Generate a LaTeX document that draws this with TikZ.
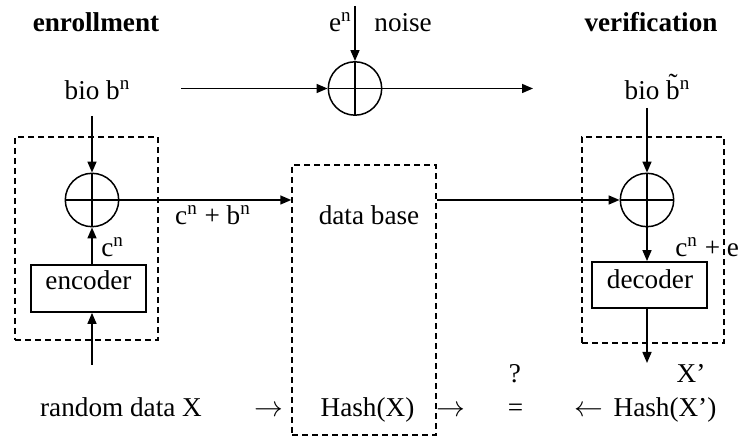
\documentclass[tikz,border=0pt]{standalone}
\usepackage{fontspec}
\setmainfont{Liberation Serif}
\usetikzlibrary{arrows.meta,positioning}
\tikzset{
  txt/.style={font=\fontsize{13.6}{16}\selectfont, inner sep=0pt, anchor=base},
  head/.style={txt, font=\fontsize{13.6}{16}\selectfont\bfseries},
  adder/.style={circle, draw, line width=0.75pt, minimum size=26.7pt, inner sep=0pt,
    path picture={\draw[line width=0.75pt]
      (path picture bounding box.north) -- (path picture bounding box.south)
      (path picture bounding box.west) -- (path picture bounding box.east);}},
  codebox/.style={draw, line width=0.9pt, minimum width=57.5pt, minimum height=23.5pt, inner sep=0pt},
  groupbox/.style={draw, dash pattern=on 3pt off 2pt, line width=0.75pt, inner sep=0pt},
  flow/.style={line width=0.75pt, -{Triangle[length=5.5pt,width=4.5pt]}},
}
\newcommand{\tildeb}{\ooalign{b\cr\hidewidth\raisebox{0.28em}{\char"02DC}\hidewidth\cr}}

\begin{document}
\begin{tikzpicture}[x=0.5pt, y=-0.5pt]
\useasboundingbox (0,0) rectangle (738,437);

% titles
\node[head] (enroll) at (96,32) {enrollment};
\node[head] (verif) at (651,32) {verification};

% biometric inputs and noise
\node[txt] (bioL) at (97.5,100) {bio b\textsuperscript{n}};
\node[txt] (bioR) at (657.5,100) {bio \tildeb\textsuperscript{n}};
\node[adder] (sumN) at (355,88.5) {};
\node[txt, anchor=base east] (noiseE) at (352,32) {e\textsuperscript{n}};
\node[txt, anchor=base west] (noise) at (374,32) {noise};
\coordinate (noiseIn) at (355,6);
\coordinate (bioLin) at (181,88.5);
\coordinate (bioRout) at (533,88.5);

% enrollment side
\node[groupbox, minimum width=71.5pt, minimum height=101.5pt] (encgrp) at (86.5,238.5) {};
\node[adder] (sumL) at (92,200) {};
\node[codebox] (enc) at (88.5,288.5) {};
\node[txt] (enctxt) at (88.5,290) {encoder};
\node[txt, anchor=base west] (cn) at (101,257) {c\textsuperscript{n}};
\node[txt] (cb) at (213,225) {c\textsuperscript{n} + b\textsuperscript{n}};
\coordinate (bioLdown) at (92,116);
\coordinate (randUp) at (92,365);

% data base
\node[groupbox, minimum width=72pt, minimum height=135pt] (db) at (364,300) {};
\node[txt] (dbtxt) at (369,225) {data base};

% verification side
\node[groupbox, minimum width=71pt, minimum height=103pt] (decgrp) at (653,240) {};
\node[adder] (sumR) at (647,200) {};
\node[codebox, minimum height=23pt] (dec) at (649.5,285) {};
\node[txt] (dectxt) at (650,289) {decoder};
\node[txt, anchor=base west] (ce) at (675,257) {c\textsuperscript{n} + e\textsuperscript{n}};
\coordinate (bioRdown) at (647,108);
\coordinate (decDown) at (647,363);

% bottom row
\node[txt] (rand) at (121,417) {random data X};
\node[txt] (arrA) at (269,417) {$\rightarrow$};
\node[txt] (hashX) at (367.5,417) {Hash(X)};
\node[txt] (arrB) at (451,417) {$\rightarrow$};
\node[txt] (eq) at (515.5,417) {=};
\node[txt] (qm) at (515,383) {?};
\node[txt] (arrC) at (588.5,417) {$\leftarrow$};
\node[txt] (hashXp) at (665,417) {Hash(X’)};
\node[txt] (xp) at (691,383) {X’};

\draw[flow] (bioLin) -- (sumN);
\draw[flow] (noiseIn) -- (sumN);
\draw[flow] (sumN) -- (bioRout);
\draw[flow] (bioLdown) -- (sumL);
\draw[flow] (enc.north -| sumL) -- (sumL);
\draw[flow] (randUp) -- (randUp |- enc.south);
\draw[flow] (sumL) -- (sumL -| db.west);
\draw[flow] (db.east |- sumR) -- (sumR);
\draw[flow] (bioRdown) -- (sumR);
\draw[flow] (sumR) -- (sumR |- dec.north);
\draw[flow] (dec.south -| sumR) -- (decDown);

\end{tikzpicture}
\end{document}
